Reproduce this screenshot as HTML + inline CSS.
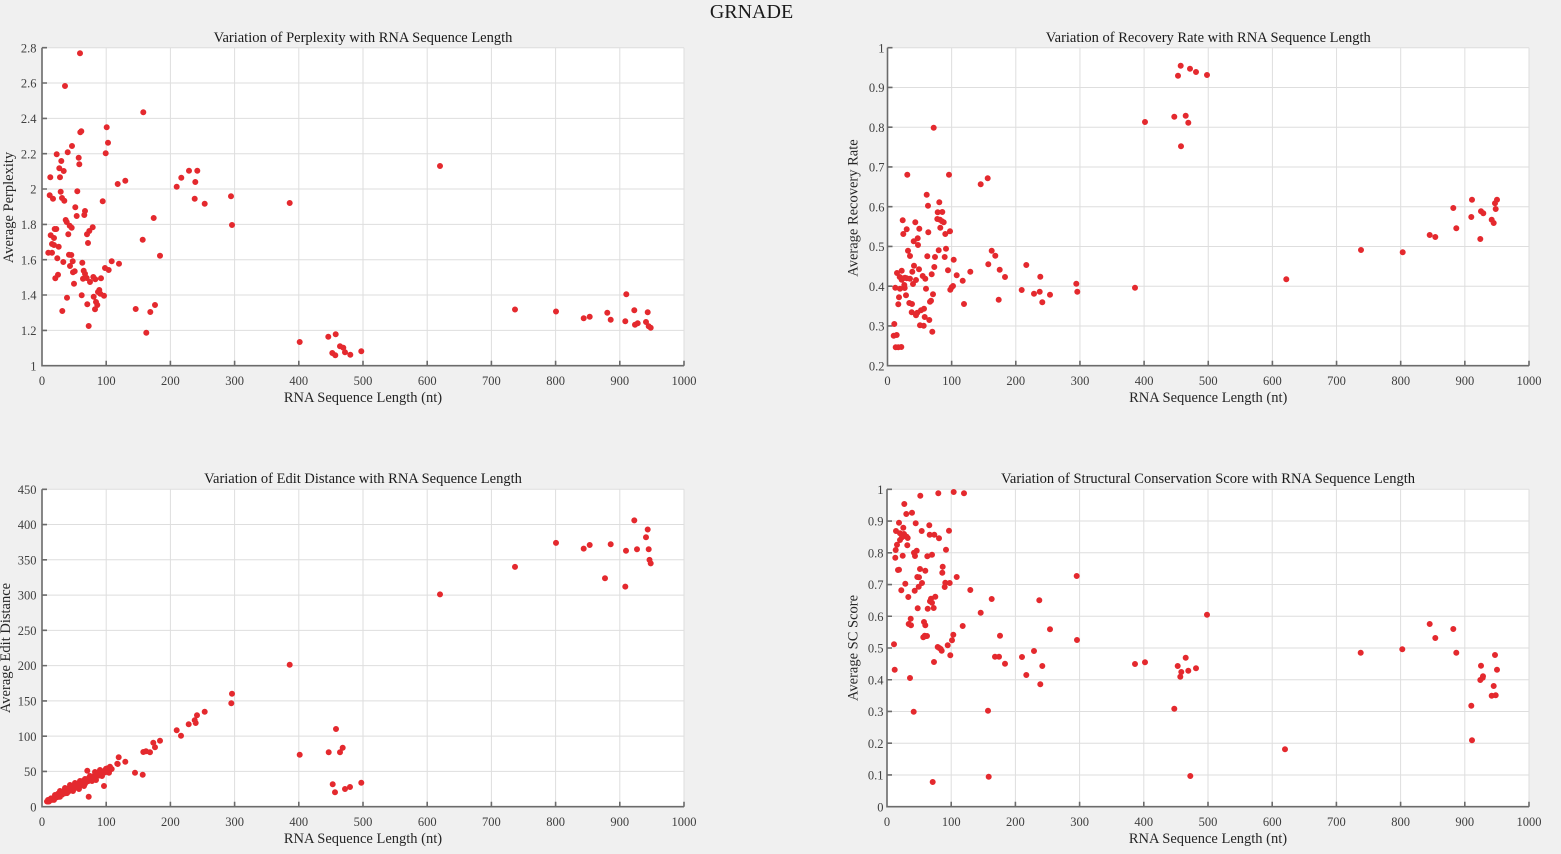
<!DOCTYPE html>
<html><head><meta charset="utf-8"><style>
html,body{margin:0;padding:0;background:#f0f0f0;}
svg{display:block;}
svg text{font-family:"Liberation Serif","Times New Roman",serif !important;}
.tk{font-size:12.5px;fill:#404040;}
.tt{font-size:14.5px;fill:#1a1a1a;}
.lb{font-size:14.5px;fill:#262626;}
</style></head><body>
<svg width="1561" height="854" xmlns="http://www.w3.org/2000/svg" font-family="Liberation Serif, Times New Roman, serif">
<rect width="1561" height="854" fill="#f0f0f0"/>
<text x="751.5" y="18" text-anchor="middle" font-family="Liberation Serif, serif" style="font-size:20px;fill:#1a1a1a">GRNADE</text>

<!-- ============ TOP LEFT ============ -->
<rect x="42" y="47.7" width="642" height="318" fill="#fff"/>
<path fill="none" stroke="#dedede" stroke-width="1" d="M106.2 47.7V365.7M170.4 47.7V365.7M234.6 47.7V365.7M298.8 47.7V365.7M363 47.7V365.7M427.2 47.7V365.7M491.4 47.7V365.7M555.6 47.7V365.7M619.8 47.7V365.7M684 47.7V365.7M42 330.4H684M42 295H684M42 259.7H684M42 224.4H684M42 189H684M42 153.7H684M42 118.4H684M42 83H684M42 47.7H684"/>
<path fill="none" stroke="#6b6b6b" stroke-width="1.6" d="M42 47.7V365.7H684M42 365.7h5M42 330.4h5M42 295h5M42 259.7h5M42 224.4h5M42 189h5M42 153.7h5M42 118.4h5M42 83h5M42 47.7h5M106.2 365.7v-5M170.4 365.7v-5M234.6 365.7v-5M298.8 365.7v-5M363 365.7v-5M427.2 365.7v-5M491.4 365.7v-5M555.6 365.7v-5M619.8 365.7v-5M684 365.7v-5"/>
<g class="tk" text-anchor="end" font-family="Liberation Serif, serif">
<text x="36.5" y="370.3">1</text><text x="36.5" y="335">1.2</text><text x="36.5" y="299.6">1.4</text><text x="36.5" y="264.3">1.6</text><text x="36.5" y="229">1.8</text><text x="36.5" y="193.6">2</text><text x="36.5" y="158.3">2.2</text><text x="36.5" y="123">2.4</text><text x="36.5" y="87.6">2.6</text><text x="36.5" y="52.3">2.8</text>
</g>
<g class="tk" text-anchor="middle" font-family="Liberation Serif, serif">
<text x="42" y="385">0</text><text x="106.2" y="385">100</text><text x="170.4" y="385">200</text><text x="234.6" y="385">300</text><text x="298.8" y="385">400</text><text x="363" y="385">500</text><text x="427.2" y="385">600</text><text x="491.4" y="385">700</text><text x="555.6" y="385">800</text><text x="619.8" y="385">900</text><text x="684" y="385">1000</text>
</g>
<text class="tt" x="363" y="42" text-anchor="middle" font-family="Liberation Serif, serif">Variation of Perplexity with RNA Sequence Length</text>
<text class="lb" x="363" y="402" text-anchor="middle" font-family="Liberation Serif, serif">RNA Sequence Length (nt)</text>
<text class="lb" transform="translate(13,207.5) rotate(-90)" text-anchor="middle" font-family="Liberation Serif, serif">Average Perplexity</text>
<path fill="none" stroke="#e4292e" stroke-width="6" stroke-linecap="round" d="M80 53.3h0M65 86h0M143.3 112.3h0M80.3 132.3h0M81.3 131.3h0M106.7 127.3h0M72 146h0M108 142.7h0M56.7 154.3h0M67.7 152.3h0M78.7 157.7h0M105.7 153.3h0M61.3 161h0M79.3 164.3h0M59.3 168.3h0M63.7 171h0M50.3 177.3h0M60 177.3h0M117.7 184h0M125.3 180.7h0M189 170.7h0M197.3 170.7h0M181.3 177.7h0M195.3 182h0M176.7 186.7h0M60.7 191.7h0M77.3 191.3h0M49.7 195.3h0M53 198.7h0M62 198h0M64.3 200.7h0M102.7 201.3h0M194.7 198.7h0M204.7 203.7h0M231 196.3h0M75.3 207.3h0M85 211h0M76.7 216h0M84.3 215h0M153.7 218h0M65.7 220h0M66.7 222h0M69.7 225.7h0M71.7 227.7h0M232 225h0M54.7 229h0M56.3 229h0M92.7 227.3h0M89.3 231h0M87 234.3h0M68.3 234.3h0M50.7 235.3h0M54 238h0M142.7 239.7h0M88 243h0M52 244h0M54 245h0M58.7 246.7h0M48.3 252.7h0M52 252.7h0M69 254.7h0M71.3 255h0M160 255.7h0M57.3 258.3h0M63.3 262h0M82.3 262.7h0M111.7 261.3h0M119 263.7h0M72.7 261.3h0M70 266h0M105 268h0M108.7 270h0M74.7 271.3h0M73 272.3h0M83.7 270.7h0M85 273.7h0M58 274.7h0M55.3 278.3h0M86.7 278h0M83 278.7h0M93.3 277h0M95.3 279.3h0M101 278.3h0M90 282h0M74 283.7h0M99.3 290h0M98 292h0M100.3 293.7h0M104 295.7h0M81.7 295.3h0M93.7 296.7h0M67 297.7h0M96 302h0M97.3 305h0M95 309.3h0M87.3 304.3h0M62.3 311h0M135.7 309h0M150.3 312h0M155 305h0M88.7 326h0M146.3 332.7h0M289.7 203h0M299.7 342h0M328.3 336.7h0M335.7 334.3h0M332.3 353h0M335.3 355.3h0M340 346.3h0M343.3 347.7h0M345 352.3h0M350.3 354.7h0M361.3 351.3h0M440 166h0M515 309.5h0M556 311.5h0M583.7 318.3h0M589.7 316.7h0M607.3 312.7h0M610.7 319.7h0M626.3 294.3h0M625.3 321.3h0M634.3 310.3h0M647.7 312.3h0M635 324.7h0M637.7 323.3h0M646 322h0M648.7 326.3h0M650.7 327.7h0"/>

<!-- ============ TOP RIGHT ============ -->
<rect x="887.5" y="47.7" width="641.5" height="318" fill="#fff"/>
<path fill="none" stroke="#dedede" stroke-width="1" d="M951.65 47.7V365.7M1015.8 47.7V365.7M1079.95 47.7V365.7M1144.1 47.7V365.7M1208.25 47.7V365.7M1272.4 47.7V365.7M1336.55 47.7V365.7M1400.7 47.7V365.7M1464.85 47.7V365.7M1529 47.7V365.7M887.5 325.95H1529M887.5 286.2H1529M887.5 246.45H1529M887.5 206.7H1529M887.5 166.95H1529M887.5 127.2H1529M887.5 87.45H1529M887.5 47.7H1529"/>
<path fill="none" stroke="#6b6b6b" stroke-width="1.6" d="M887.5 47.7V365.7H1529M887.5 365.7h5M887.5 325.95h5M887.5 286.2h5M887.5 246.45h5M887.5 206.7h5M887.5 166.95h5M887.5 127.2h5M887.5 87.45h5M887.5 47.7h5M951.65 365.7v-5M1015.8 365.7v-5M1079.95 365.7v-5M1144.1 365.7v-5M1208.25 365.7v-5M1272.4 365.7v-5M1336.55 365.7v-5M1400.7 365.7v-5M1464.85 365.7v-5M1529 365.7v-5"/>
<g class="tk" text-anchor="end" font-family="Liberation Serif, serif">
<text x="884.5" y="370.3">0.2</text><text x="884.5" y="330.6">0.3</text><text x="884.5" y="290.8">0.4</text><text x="884.5" y="251">0.5</text><text x="884.5" y="211.3">0.6</text><text x="884.5" y="171.6">0.7</text><text x="884.5" y="131.8">0.8</text><text x="884.5" y="92">0.9</text><text x="884.5" y="52.3">1</text>
</g>
<g class="tk" text-anchor="middle" font-family="Liberation Serif, serif">
<text x="887.5" y="385">0</text><text x="951.65" y="385">100</text><text x="1015.8" y="385">200</text><text x="1079.95" y="385">300</text><text x="1144.1" y="385">400</text><text x="1208.25" y="385">500</text><text x="1272.4" y="385">600</text><text x="1336.55" y="385">700</text><text x="1400.7" y="385">800</text><text x="1464.85" y="385">900</text><text x="1529" y="385">1000</text>
</g>
<text class="tt" x="1208.25" y="42" text-anchor="middle" font-family="Liberation Serif, serif">Variation of Recovery Rate with RNA Sequence Length</text>
<text class="lb" x="1208.25" y="402" text-anchor="middle" font-family="Liberation Serif, serif">RNA Sequence Length (nt)</text>
<text class="lb" transform="translate(857.5,208) rotate(-90)" text-anchor="middle" font-family="Liberation Serif, serif">Average Recovery Rate</text>
<path fill="none" stroke="#e4292e" stroke-width="6" stroke-linecap="round" d="M1180.7 65.7h0M1178 75.7h0M1190 68.7h0M1196 72h0M1207 75h0M1174.3 116.7h0M1185.7 115.7h0M1188.3 122.7h0M1181 146.3h0M1145 122h0M933.7 127.7h0M907.3 174.7h0M949 174.7h0M980.7 184.3h0M987.7 178.3h0M926.7 194.7h0M928 205.7h0M939.3 202.3h0M937.7 212.3h0M942.3 212h0M937.3 219h0M940 219.7h0M942 221.3h0M943.7 222.3h0M940.3 227.7h0M945.3 234h0M950 231.3h0M928.3 232.3h0M915.3 222.3h0M902.7 220.3h0M906.7 229.3h0M903.3 234h0M919.3 228.7h0M917.7 238.3h0M918 245h0M913.7 241.3h0M938.7 250.3h0M946 248.7h0M908 250.7h0M910 256h0M927.3 256.3h0M935 257h0M944.7 257h0M953.7 259.7h0M991.7 250.7h0M995.3 255.7h0M988.3 264.3h0M999.7 269.7h0M1005 277h0M1026.3 265h0M970.3 271.7h0M956.7 275.3h0M962.7 280.7h0M948 270.3h0M934.3 267h0M931.7 274.3h0M925.3 278.7h0M922.7 276h0M919 269.3h0M914 265.7h0M912.3 271.7h0M916 280h0M913 284h0M906.7 278.3h0M910 278.7h0M897 273h0M901.7 270.7h0M903.3 278.3h0M901.7 279.7h0M905 277.7h0M899.7 277h0M895.3 287.7h0M900 288.7h0M904.7 288h0M904.3 285h0M899 297.3h0M898.3 304.3h0M906 295.3h0M909.3 303h0M912 304h0M911.7 312.3h0M916 315.3h0M917.3 312.7h0M921 310.3h0M924 308.7h0M924.7 317h0M929.3 320h0M920 325.3h0M923.7 325.7h0M932.3 331.7h0M894.3 324h0M893.7 335.7h0M896.7 335h0M895.7 347.3h0M898.3 347.3h0M901.3 347h0M930 301.7h0M931 300.7h0M933 294.3h0M926 288.7h0M964 304h0M998.7 299.7h0M1021.7 290h0M1034 293.7h0M1039.7 291.7h0M1042.3 302.3h0M1050 294.7h0M1040.3 276.7h0M1076.3 283.7h0M1077.3 291.7h0M950.3 289.7h0M951.7 287.3h0M953 286h0M1135 287.7h0M1286.3 279.3h0M1361 250h0M1402.7 252.3h0M1429.7 235h0M1435.3 237h0M1453.3 208h0M1456.3 228.3h0M1472 199.7h0M1471.3 217h0M1480.3 239h0M1481 211.3h0M1483.3 213.3h0M1491.7 219.7h0M1493.7 223h0M1495 203.3h0M1497 199.7h0M1495.7 209h0"/>

<!-- ============ BOTTOM LEFT ============ -->
<rect x="42" y="489.3" width="642" height="317.4" fill="#fff"/>
<path fill="none" stroke="#dedede" stroke-width="1" d="M106.2 489.3V806.7M170.4 489.3V806.7M234.6 489.3V806.7M298.8 489.3V806.7M363 489.3V806.7M427.2 489.3V806.7M491.4 489.3V806.7M555.6 489.3V806.7M619.8 489.3V806.7M684 489.3V806.7M42 771.43H684M42 736.16H684M42 700.89H684M42 665.62H684M42 630.35H684M42 595.08H684M42 559.81H684M42 524.54H684M42 489.27H684"/>
<path fill="none" stroke="#6b6b6b" stroke-width="1.6" d="M42 489.3V806.7H684M42 806.7h5M42 771.43h5M42 736.16h5M42 700.89h5M42 665.62h5M42 630.35h5M42 595.08h5M42 559.81h5M42 524.54h5M42 489.27h5M106.2 806.7v-5M170.4 806.7v-5M234.6 806.7v-5M298.8 806.7v-5M363 806.7v-5M427.2 806.7v-5M491.4 806.7v-5M555.6 806.7v-5M619.8 806.7v-5M684 806.7v-5"/>
<g class="tk" text-anchor="end" font-family="Liberation Serif, serif">
<text x="36.5" y="811.3">0</text><text x="36.5" y="776">50</text><text x="36.5" y="740.8">100</text><text x="36.5" y="705.5">150</text><text x="36.5" y="670.2">200</text><text x="36.5" y="635">250</text><text x="36.5" y="599.7">300</text><text x="36.5" y="564.4">350</text><text x="36.5" y="529.1">400</text><text x="36.5" y="493.9">450</text>
</g>
<g class="tk" text-anchor="middle" font-family="Liberation Serif, serif">
<text x="42" y="826">0</text><text x="106.2" y="826">100</text><text x="170.4" y="826">200</text><text x="234.6" y="826">300</text><text x="298.8" y="826">400</text><text x="363" y="826">500</text><text x="427.2" y="826">600</text><text x="491.4" y="826">700</text><text x="555.6" y="826">800</text><text x="619.8" y="826">900</text><text x="684" y="826">1000</text>
</g>
<text class="tt" x="363" y="483" text-anchor="middle" font-family="Liberation Serif, serif">Variation of Edit Distance with RNA Sequence Length</text>
<text class="lb" x="363" y="843" text-anchor="middle" font-family="Liberation Serif, serif">RNA Sequence Length (nt)</text>
<text class="lb" transform="translate(10,648) rotate(-90)" text-anchor="middle" font-family="Liberation Serif, serif">Average Edit Distance</text>
<path fill="none" stroke="#e4292e" stroke-width="6" stroke-linecap="round" d="M289.7 664.7h0M232 693.7h0M231.3 703.3h0M204.7 711.7h0M197 715.3h0M194.7 720.3h0M195.7 723h0M188.7 724.3h0M176.7 730.3h0M181 735.7h0M336 729h0M342.7 747.7h0M340 752.3h0M328.7 752.3h0M299.7 754.7h0M153.3 742.7h0M155 747.3h0M160 740.7h0M143.3 752h0M146 751.3h0M150 752.3h0M118.7 757.3h0M117.3 763.7h0M125.3 761.7h0M135 772.7h0M142.7 774.7h0M332.7 784.3h0M361.3 782.7h0M350 787h0M345 789h0M335 792.3h0M87.3 770.7h0M88.7 796.7h0M104 786h0M107.7 768.3h0M111.7 769h0M109 772.7h0M117.7 764h0M440 594.4h0M515 566.9h0M556 542.9h0M583.7 548.6h0M589.7 545h0M605 578.2h0M610.7 544.3h0M625.3 586.6h0M626 550.7h0M634.3 520.4h0M637 549.3h0M646 537.3h0M647.7 529.5h0M648.7 549.3h0M649.5 559.9h0M650.7 563.4h0M47 801.5h0M48 800h0M49 801.5h0M50 800h0M51 798.4h0M52 799.9h0M53 798.4h0M54 799.9h0M55 796.4h0M56 796.8h0M57 797.3h0M58 793.8h0M59 795.3h0M60 796.8h0M61 793.2h0M62 794.7h0M63 793.2h0M64 790.7h0M65 793.2h0M66 791.6h0M67 793.1h0M68 789.6h0M69 791.1h0M70 787.6h0M71 789.1h0M72 790.5h0M73 787h0M74 787.5h0M75 788h0M76 784.4h0M77 785.9h0M78 787.4h0M79 783.9h0M80 785.4h0M81 783.8h0M82 781.3h0M83 783.8h0M84 782.3h0M85 783.8h0M86 780.2h0M87 780.7h0M88 781.2h0M89 777.7h0M90 779.2h0M91 779.7h0M92 777.1h0M93 779.6h0M94 777.1h0M95 774.6h0M96 777.1h0M97 775.5h0M98 774h0M99 775.5h0M100 772h0M101 773.4h0M102 773.9h0M103 771.4h0M104 771.9h0M105 772.4h0M106 768.8h0M108 768.8h0M110 766.8h0M70 785h0M75 783h0M80 781h0M85 779h0M60 791h0M65 788h0M55 795h0M90 776h0M95 772h0M100 770h0M79 789h0M84 786h0M92 781h0M96 780h0M73 791h0M102 776h0"/>

<!-- ============ BOTTOM RIGHT ============ -->
<rect x="887" y="489.3" width="642" height="317.4" fill="#fff"/>
<path fill="none" stroke="#dedede" stroke-width="1" d="M951.2 489.3V806.7M1015.4 489.3V806.7M1079.6 489.3V806.7M1143.8 489.3V806.7M1208 489.3V806.7M1272.2 489.3V806.7M1336.4 489.3V806.7M1400.6 489.3V806.7M1464.8 489.3V806.7M1529 489.3V806.7M887 774.96H1529M887 743.22H1529M887 711.48H1529M887 679.74H1529M887 648H1529M887 616.26H1529M887 584.52H1529M887 552.78H1529M887 521.04H1529M887 489.3H1529"/>
<path fill="none" stroke="#6b6b6b" stroke-width="1.6" d="M887 489.3V806.7H1529M887 806.7h5M887 774.96h5M887 743.22h5M887 711.48h5M887 679.74h5M887 648h5M887 616.26h5M887 584.52h5M887 552.78h5M887 521.04h5M887 489.3h5M951.2 806.7v-5M1015.4 806.7v-5M1079.6 806.7v-5M1143.8 806.7v-5M1208 806.7v-5M1272.2 806.7v-5M1336.4 806.7v-5M1400.6 806.7v-5M1464.8 806.7v-5M1529 806.7v-5"/>
<g class="tk" text-anchor="end" font-family="Liberation Serif, serif">
<text x="883.5" y="811.3">0</text><text x="883.5" y="779.6">0.1</text><text x="883.5" y="747.8">0.2</text><text x="883.5" y="716.1">0.3</text><text x="883.5" y="684.3">0.4</text><text x="883.5" y="652.6">0.5</text><text x="883.5" y="620.9">0.6</text><text x="883.5" y="589.1">0.7</text><text x="883.5" y="557.4">0.8</text><text x="883.5" y="525.6">0.9</text><text x="883.5" y="493.9">1</text>
</g>
<g class="tk" text-anchor="middle" font-family="Liberation Serif, serif">
<text x="887" y="826">0</text><text x="951.2" y="826">100</text><text x="1015.4" y="826">200</text><text x="1079.6" y="826">300</text><text x="1143.8" y="826">400</text><text x="1208" y="826">500</text><text x="1272.2" y="826">600</text><text x="1336.4" y="826">700</text><text x="1400.6" y="826">800</text><text x="1464.8" y="826">900</text><text x="1529" y="826">1000</text>
</g>
<text class="tt" x="1208" y="483" text-anchor="middle" font-family="Liberation Serif, serif">Variation of Structural Conservation Score with RNA Sequence Length</text>
<text class="lb" x="1208" y="843" text-anchor="middle" font-family="Liberation Serif, serif">RNA Sequence Length (nt)</text>
<text class="lb" transform="translate(857.5,648) rotate(-90)" text-anchor="middle" font-family="Liberation Serif, serif">Average SC Score</text>
<path fill="none" stroke="#e4292e" stroke-width="6" stroke-linecap="round" d="M920.3 495.7h0M938.3 493.3h0M953.7 492h0M964 493.3h0M904.3 504h0M906.3 514h0M912 512.7h0M899 522.7h0M915.7 523.3h0M929.3 525.3h0M903.3 527.7h0M896 531h0M921.7 531h0M949 530.7h0M900 533.3h0M904 534h0M906.7 536.7h0M902 537.3h0M904.7 535.3h0M907.7 538h0M929.7 534.7h0M934.3 534.7h0M939 538.3h0M900 540h0M897 544.7h0M907.3 545.3h0M895.7 550h0M946 549.7h0M916.7 550.7h0M914 552.7h0M915 556h0M902.7 555.7h0M927.3 556.3h0M932 554.7h0M895.3 557.7h0M925.3 570.7h0M898 570h0M899 569.7h0M942.7 566.7h0M920 569h0M942.3 572.7h0M917.3 577h0M919 577.3h0M956.7 577h0M905.3 583.7h0M945.3 582.7h0M944.7 587h0M949.7 583h0M922 583h0M918.7 586.7h0M901.3 590.3h0M914.7 590.7h0M908.3 597h0M935.3 596.7h0M970.3 590h0M931 598.7h0M930 601.3h0M932 602.7h0M933.7 608h0M927.7 608.7h0M917.7 608.3h0M991.7 599h0M980.7 612.7h0M1039.3 600.3h0M1076.7 576h0M910.7 618.7h0M911 625.3h0M908.7 624h0M924 622h0M925.3 625.3h0M924.7 635.7h0M927 636h0M923.3 637.3h0M962.7 626h0M953.3 634.7h0M952 640.3h0M1000 635.7h0M1050 629.3h0M1077 640h0M1207 614.7h0M894 644.3h0M937.7 647h0M939.3 648h0M941.7 650.7h0M940.7 649h0M947.7 645.3h0M950.3 655.3h0M995 656.7h0M999 656.7h0M1022 657h0M1034 651h0M1005 663.7h0M1042.3 666h0M1026.3 675h0M1040.3 684.3h0M1135 664h0M1145 662.3h0M1185.7 657.7h0M1177.7 666h0M1181.3 672h0M1180.3 676.7h0M1188.3 670.7h0M1196 668.3h0M934 662h0M894.7 669.7h0M910 678h0M913.7 711.7h0M988 710.7h0M1174.3 708.7h0M932.7 782h0M988.7 776.7h0M1190.3 776h0M1285 749.3h0M1360.7 652.7h0M1402.3 649.3h0M1429.7 624h0M1453.3 629h0M1435.3 638h0M1456.3 652.7h0M1495 655h0M1481 665.7h0M1497 669.7h0M1483 676.3h0M1480.3 680h0M1482.7 677.7h0M1493.7 686h0M1491.7 695.7h0M1495.7 695.3h0M1471.3 705.7h0M1472 740.3h0"/>
</svg>
</body></html>
